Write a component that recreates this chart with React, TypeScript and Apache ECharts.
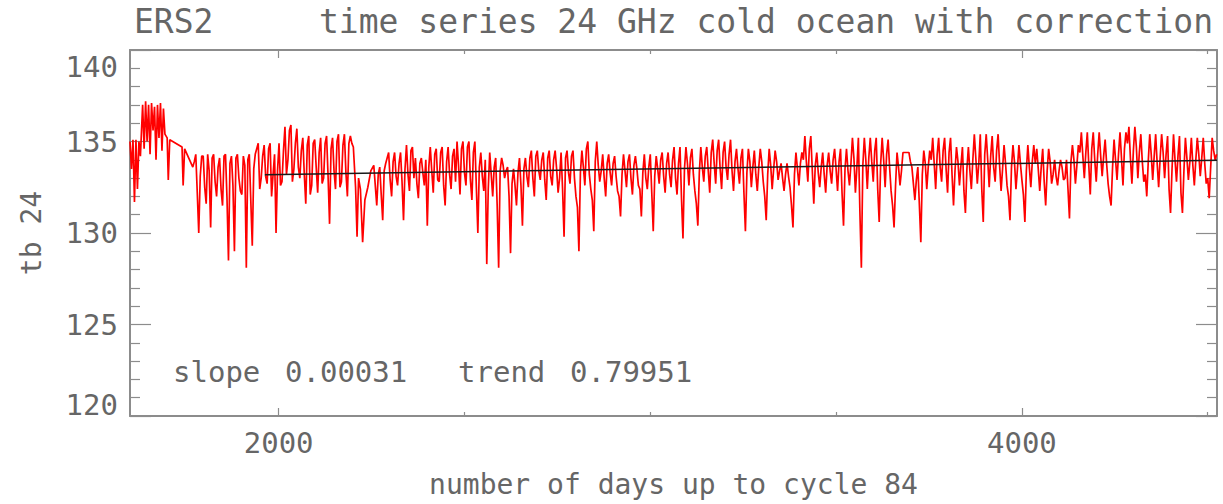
import React, { useEffect, useRef } from "react";
import * as echarts from "echarts";

const FONT = '"DejaVu Sans Mono", monospace';
const TEXT_COLOR = "#666666";
const AXIS_COLOR = "#8c8c8c";

// axis extents and tick values
const X_MIN = 1600;
const X_MAX = 4525;
const Y_MIN = 120;
const Y_MAX = 140;
const Y_STEP = 5;
const xMajorTicks = [2000, 4000];
const xMinorTicks = [2500, 3000, 3500, 4500];

const titleLeft = "ERS2";
const titleRight = "time series 24 GHz cold ocean with correction";
const xName = "number of days up to cycle 84";
const yName = "tb 24";
const slopeLabel = "slope";
const slopeValue = "0.00031";
const trendLabel = "trend";
const trendValue = "0.79951";

// tb 24 series (segments: start day, step in days, values, mid-step values)
const seg1Start = 1600;
const seg1Step = 4;
const seg1 = [135.0, 133.5, 135.1, 131.7, 135.1, 132.4, 135.0, 134.2];

const seg2Start = 1634;
const seg2Step = 4;
const seg2 = [137.0, 134.6, 137.2, 135.0, 137.0, 134.3, 137.1, 135.6, 136.9, 134.0, 137.0, 135.2, 137.1, 134.5, 136.8];

const gapA: [number, number][] = [
  [1694, 135.4], [1700, 135.2], [1703, 132.9], [1707, 135.1], [1740, 134.7], [1743, 132.6], [1747, 134.6],
];

const seg4Start = 1769;
const seg4Step = 8;
const seg4 = [133.6, 134.3, 130.0, 134.2, 132.5, 134.3, 130.3, 134.3, 132.0, 134.1, 131.5, 134.3, 128.5, 134.2, 129.0, 134.3, 132.3, 134.2, 128.1, 134.3, 129.3, 134.3];
const seg4Mid = [133.9, 132.2, 133.1, 134.2, 131.6, 133.4, 134.1, 132.8, 133.6, 132.4, 134.2, 131.9, 133.8, 132.6, 134.1, 133.0, 132.1, 133.7, 134.0, 131.8, 133.5, 134.6];

const seg5Start = 1945;
const seg5Step = 8;
const seg5 = [134.9, 133.0, 134.8, 132.7, 134.9, 133.2, 130.0, 134.9, 132.8, 135.8, 134.0, 135.9, 133.5, 135.7];
const seg5Mid = [132.4, 134.2, 133.1, 134.6, 132.0, 134.3, 133.4, 132.6, 134.5, 133.2, 135.6, 132.8, 134.9, 133.6];

const seg6Start = 2057;
const seg6Step = 8;
const seg6 = [133.0, 135.2, 131.6, 135.3, 132.6, 135.1, 132.2, 135.2, 133.0, 135.3, 130.5, 135.2, 132.4, 135.4, 132.8, 135.4, 132.0, 135.3];
const seg6Mid = [134.5, 133.2, 134.8, 132.1, 134.9, 133.6, 134.4, 132.7, 134.9, 133.1, 134.6, 133.4, 135.0, 132.5, 134.8, 133.3, 134.9, 134.9];

const gapB: [number, number][] = [
  [2201, 134.7], [2207, 132.5], [2211, 129.8], [2215, 133.0], [2220, 132.4], [2226, 129.5], [2232, 131.8], [2240, 132.5], [2248, 133.4],
];

const seg8Start = 2256;
const seg8Step = 8;
const seg8 = [133.7, 131.5, 133.6, 130.7, 133.8, 134.4, 132.0, 134.4, 132.6];
const seg8Mid = [132.6, 133.2, 132.1, 133.4, 134.1, 132.9, 133.9, 133.1, 133.8];

const seg9Start = 2328;
const seg9Step = 8;
const seg9 = [
  134.4, 130.7, 134.8, 132.3, 134.7, 134.1, 131.9, 134.1, 132.6, 130.4,
  134.7, 132.2, 134.6, 132.8, 134.7, 131.5, 134.7, 132.4, 134.6, 135.0,
  132.1, 135.0, 132.6, 135.0, 131.8, 135.0, 130.0, 134.4, 132.3, 128.3,
  134.4, 132.0, 134.1, 128.1, 134.1, 133.0, 133.6, 128.9, 133.5, 131.5,
  134.1, 130.4, 134.1, 132.5, 134.5, 132.0, 134.5, 132.9, 134.4, 131.8,
  134.5, 132.6, 134.5, 132.2, 134.4, 129.8, 134.5, 132.7, 134.5, 132.0,
  129.0, 134.5, 132.6, 135.0, 132.4, 130.1, 135.0, 132.8, 134.3, 132.0,
  134.3, 132.6, 134.2, 132.3, 130.9, 134.3, 132.5, 134.3, 132.1, 134.2,
  132.6, 130.9, 134.3, 132.4, 134.3, 130.1, 134.2, 132.7, 134.4, 132.2,
  134.4, 132.5, 134.7, 132.1, 134.7, 129.7, 134.7, 132.6, 134.6, 132.3,
  130.4, 134.7, 132.8, 134.7, 132.2, 135.1, 132.7, 135.1, 132.4, 135.0,
  132.9, 135.1, 132.3, 134.6, 132.7, 134.6, 130.1, 134.6, 132.5, 134.5,
  132.3, 134.6, 132.8, 130.7, 134.6, 132.4, 134.5, 132.9, 133.8, 132.3,
  133.8, 132.5, 130.3, 134.4, 132.6, 134.4, 135.3, 132.8, 135.3, 131.6,
  134.4, 132.5, 134.4, 132.2, 134.4, 132.7, 134.6, 132.3, 134.6, 130.4,
  134.6, 132.6, 135.2, 132.2, 135.2, 128.1, 135.2, 132.4, 135.2, 132.8,
  135.2, 130.6, 135.2, 132.5, 135.1, 132.3, 130.3, 134.4, 132.6, 134.4,
];
const seg9Mid = [
  132.8, 133.5, 133.2, 134.5, 133.0, 132.7, 133.8, 133.3, 134.0, 133.6,
  133.4, 134.3, 132.9, 134.4, 132.6, 133.9, 133.2, 134.2, 132.8, 133.7,
  134.6, 133.3, 134.7, 132.9, 134.4, 132.5, 133.6, 133.1, 134.0, 132.4,
  133.2, 133.6, 131.5, 133.4, 133.7, 133.4, 132.0, 132.7, 132.6, 133.3,
  132.6, 133.5, 133.1, 134.1, 133.0, 134.2, 133.4, 134.0, 132.9, 134.1,
  133.1, 134.0, 133.5, 133.0, 132.4, 134.1, 133.3, 134.2, 133.0, 131.4,
  133.3, 133.6, 134.6, 133.2, 131.8, 133.9, 133.7, 133.4, 133.0, 133.8,
  133.3, 133.8, 133.1, 132.0, 133.2, 133.4, 133.9, 133.0, 133.7, 133.5,
  132.4, 133.3, 133.0, 133.6, 132.2, 133.1, 133.5, 134.0, 133.1, 133.8,
  133.2, 134.0, 133.0, 133.8, 131.9, 133.5, 133.8, 134.1, 133.2, 131.6,
  133.3, 133.6, 134.2, 133.4, 134.4, 133.8, 134.5, 133.5, 134.4, 133.6,
  134.3, 133.4, 133.9, 133.5, 134.1, 132.2, 133.3, 133.9, 133.6, 133.2,
  133.6, 133.9, 132.0, 133.2, 133.7, 133.5, 133.9, 133.4, 133.0, 133.2,
  133.1, 131.5, 133.2, 133.5, 133.8, 134.0, 133.9, 134.6, 133.4, 133.7,
  133.3, 133.6, 133.2, 133.7, 133.4, 134.0, 133.5, 133.9, 132.2, 133.5,
  133.4, 133.8, 134.1, 133.6, 131.2, 133.7, 134.0, 134.1, 133.9, 134.5,
  132.4, 133.8, 134.0, 134.3, 133.6, 131.5, 132.6, 133.6, 133.4, 134.4,
];

const seg10Start = 3696;
const seg10Step = 8;
const seg10 = [
  134.4, 133.6, 131.8, 133.6, 129.5, 134.5, 132.4, 134.5, 135.2,
  132.4, 135.2, 132.8, 135.2, 132.2, 135.2, 131.5, 134.7, 132.6, 134.7,
  131.1, 134.7, 132.4, 135.4, 132.7, 135.4, 130.6, 135.4, 132.5, 135.3,
  132.8, 135.4, 132.3, 134.8, 132.6, 130.7, 134.8, 132.4, 134.8, 132.9,
  130.6, 134.8, 132.5, 134.8, 134.6, 132.3, 134.6, 131.5, 134.6, 132.7,
  134.0, 132.6, 134.0, 132.9, 134.0, 130.8, 134.8, 132.7, 134.8, 135.5,
  133.0, 135.5, 132.1, 135.5, 132.8, 135.5, 133.1, 135.1, 132.7, 131.5,
  135.1, 132.9, 135.5, 132.6, 135.5, 135.8, 132.7, 135.8, 133.0, 135.4,
  132.8, 132.0, 135.4, 132.9, 135.4, 132.5, 135.4, 133.0, 135.3, 131.1,
  135.4, 132.8, 135.3, 131.1, 135.2, 132.9, 135.2, 132.6, 135.2, 133.1,
  135.2, 132.7, 131.9, 135.2, 134.0,
];
const seg10Mid = [
  133.9, 132.7, 132.9, 131.6, 133.2, 133.8, 133.6, 134.0, 133.8,
  134.3, 133.6, 134.5, 133.5, 134.4, 133.2, 133.4, 133.9, 133.7, 132.3,
  133.5, 133.4, 134.0, 134.1, 133.8, 132.4, 134.3, 134.0, 134.2, 133.6,
  134.5, 133.7, 133.5, 133.8, 132.0, 133.6, 133.9, 133.5, 133.8, 132.1,
  133.4, 133.6, 133.9, 133.8, 133.5, 133.6, 132.8, 133.4, 133.9, 133.2,
  133.1, 133.4, 133.6, 133.0, 132.4, 133.9, 134.0, 133.7, 134.4, 134.2,
  134.4, 133.7, 134.6, 134.0, 134.3, 134.2, 134.2, 133.8, 132.0, 133.6,
  134.0, 134.3, 134.1, 134.6, 134.9, 134.1, 134.5, 134.7, 134.4, 133.9,
  133.2, 133.9, 134.3, 134.2, 133.8, 134.1, 134.4, 134.3, 132.4, 133.5,
  134.0, 134.2, 132.2, 133.4, 134.1, 133.9, 133.7, 134.0, 134.3, 134.1,
  133.8, 133.0, 133.6, 134.5, 134.3,
];

// linear trend fit
const trendDays = [1963, 4525];
const trendValues = [133.18, 133.97];

const run = (start: number, step: number, vals: number[], mids?: number[]): [number, number][] => {
  const out: [number, number][] = [];
  vals.forEach((v, i) => {
    out.push([start + i * step, v]);
    if (mids && mids[i] !== undefined) out.push([start + i * step + step / 2, mids[i]]);
  });
  return out;
};

const tbData: [number, number][] = [
  ...run(seg1Start, seg1Step, seg1),
  ...run(seg2Start, seg2Step, seg2),
  ...gapA,
  ...run(seg4Start, seg4Step, seg4, seg4Mid),
  ...run(seg5Start, seg5Step, seg5, seg5Mid),
  ...run(seg6Start, seg6Step, seg6, seg6Mid),
  ...gapB,
  ...run(seg8Start, seg8Step, seg8, seg8Mid),
  ...run(seg9Start, seg9Step, seg9, seg9Mid),
  ...run(seg10Start, seg10Step, seg10, seg10Mid),
];

const trendData = trendDays.map((d, i) => [d, trendValues[i]]);

export default function App() {
  const ref = useRef<HTMLDivElement>(null);

  useEffect(() => {
    if (!ref.current) return;
    const chart = echarts.init(ref.current, null, { renderer: "svg" });

    const labelStyle = { fontFamily: FONT, fontSize: 29, color: TEXT_COLOR };
    const baseX = (position: "top" | "bottom", ticks: number[], len: number, line: boolean, labels: boolean, name?: string) => ({
      type: "value",
      min: X_MIN,
      max: X_MAX,
      position,
      gridIndex: 0,
      axisLine: { show: line, onZero: false, lineStyle: { color: AXIS_COLOR, width: 2 } },
      axisTick: { show: true, inside: true, length: len, customValues: ticks, lineStyle: { color: AXIS_COLOR, width: 1.2 } },
      axisLabel: labels
        ? { show: true, customValues: ticks, margin: 12, formatter: (v: number) => String(v), ...labelStyle }
        : { show: false },
      splitLine: { show: false },
      name: name || "",
      nameLocation: "middle",
      nameGap: 54,
      nameTextStyle: { fontFamily: FONT, fontSize: 28, color: TEXT_COLOR },
    });

    const baseY = (position: "left" | "right", labels: boolean, name?: string) => ({
      type: "value",
      min: Y_MIN,
      max: Y_MAX,
      interval: Y_STEP,
      position,
      axisLine: { show: true, onZero: false, lineStyle: { color: AXIS_COLOR, width: 2 } },
      axisTick: { show: true, inside: true, length: 21, lineStyle: { color: AXIS_COLOR, width: 1.2 } },
      minorTick: { show: true, splitNumber: 5, length: 10, lineStyle: { color: AXIS_COLOR, width: 1.2 } },
      axisLabel: labels
        ? {
            show: true,
            margin: 12,
            ...labelStyle,
            formatter: (v: number) =>
              v === Y_MAX ? `{t|${v}}` : v === Y_MIN ? `{b|${v}}` : `{n|${v}}`,
            rich: {
              t: { ...labelStyle, padding: [34, 0, 0, 0] },
              b: { ...labelStyle, padding: [0, 0, 22, 0] },
              n: { ...labelStyle },
            },
          }
        : { show: false },
      splitLine: { show: false },
      minorSplitLine: { show: false },
      name: name || "",
      nameLocation: "middle",
      nameRotate: 90,
      nameGap: 85,
      nameTextStyle: { fontFamily: FONT, fontSize: 28, color: TEXT_COLOR },
    });

    const annFont = `29px ${FONT}`;
    const ann = (text: string, x: number) => ({
      type: "text",
      x,
      y: 372,
      silent: true,
      style: { text, font: annFont, fill: TEXT_COLOR, verticalAlign: "middle", textVerticalAlign: "middle" },
    });

    chart.setOption({
      animation: false,
      backgroundColor: "#ffffff",
      title: [
        {
          text: titleLeft,
          left: 134,
          top: 5,
          padding: 0,
          textStyle: { fontFamily: FONT, fontSize: 33, fontWeight: "normal", color: TEXT_COLOR },
        },
        {
          text: titleRight,
          right: 10,
          top: 5,
          padding: 0,
          textStyle: { fontFamily: FONT, fontSize: 33, fontWeight: "normal", color: TEXT_COLOR },
        },
      ],
      grid: { left: 130, right: 6, top: 50, bottom: 88, containLabel: false },
      xAxis: [
        baseX("bottom", xMajorTicks, 8, true, true, xName),
        baseX("bottom", xMinorTicks, 4, false, false),
        baseX("top", xMajorTicks, 8, true, false),
        baseX("top", xMinorTicks, 4, false, false),
      ],
      yAxis: [baseY("left", true, yName), baseY("right", false)],
      series: [
        {
          type: "line",
          name: "tb",
          xAxisIndex: 0,
          yAxisIndex: 0,
          data: tbData,
          showSymbol: false,
          symbol: "none",
          lineStyle: { color: "#ff0000", width: 1.7 },
          z: 2,
        },
        {
          type: "line",
          name: "trend",
          xAxisIndex: 0,
          yAxisIndex: 0,
          data: trendData,
          showSymbol: false,
          symbol: "none",
          lineStyle: { color: "#1a1a1a", width: 1.5 },
          z: 3,
        },
      ],
      graphic: [
        ann(slopeLabel, 173),
        ann(slopeValue, 285),
        ann(trendLabel, 458),
        ann(trendValue, 570),
      ],
    });

    return () => chart.dispose();
  }, []);

  return (
    <div
      ref={ref}
      style={{ position: "fixed", left: 0, top: 0, width: 1223, height: 504, background: "#fff" }}
    />
  );
}
